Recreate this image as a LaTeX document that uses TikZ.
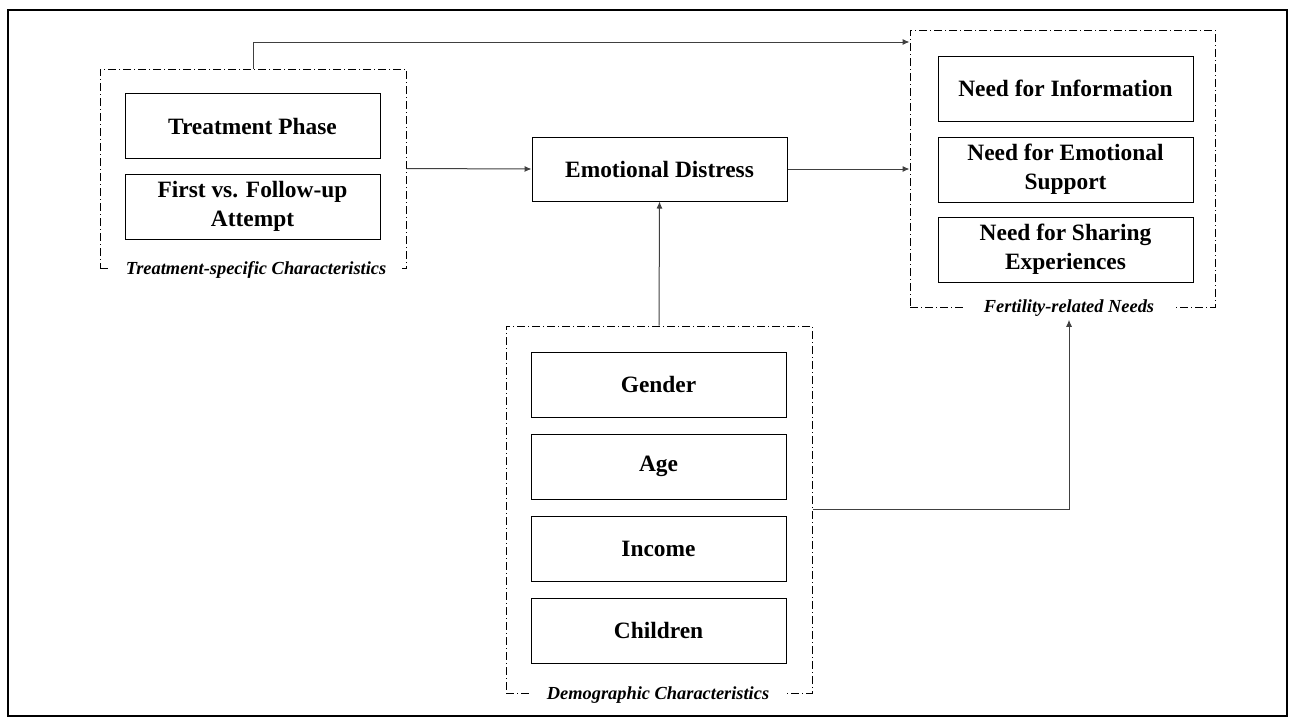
\documentclass[tikz,border=0pt]{standalone}
\usepackage{fontspec}
\setmainfont{Liberation Serif}
\usetikzlibrary{arrows.meta}

\begin{document}
\begin{tikzpicture}[
        x=0.5pt, y=-0.5pt,
        every node/.style={font=\fontsize{11.7}{14.5}\selectfont\bfseries},
        caja/.style={draw, line width=0.5pt, minimum width=127.5pt, minimum height=32.5pt, align=center, inner sep=1pt},
        grupo/.style={draw, line width=0.5pt, dash pattern=on 4pt off 1.5pt on 0.5pt off 1.5pt},
        etiqueta/.style={fill=white, inner xsep=8pt, inner ysep=1.5pt, font=\fontsize{9.2}{11}\selectfont\bfseries\itshape},
        flecha/.style={draw=black!75, line width=0.5pt, -{Latex[length=3.5pt,width=3pt]}}
    ]
    \useasboundingbox (0,0) rectangle (1293,724);
    \draw[line width=1pt] (8,10) rectangle (1287,716);

    % Caracteristicas del tratamiento
    \node[grupo, minimum width=153pt, minimum height=99.5pt] (tgroup) at (253,168.5) {};
    \node[caja] (phase) at (252.5,126) {Treatment Phase};
    \node[caja] (attempt) at (252.5,206.5) {First vs. Follow-up\\Attempt};
    \node[etiqueta] (tlabel) at (256,270) {Treatment-specific Characteristics};

    % Malestar emocional
    \node[caja, minimum height=32pt] (distress) at (659.5,169) {Emotional Distress};

    % Necesidades
    \node[grupo, minimum width=152.5pt, minimum height=138.5pt] (fgroup) at (1062.5,168.5) {};
    \node[caja] (info) at (1065.5,88.5) {Need for Information};
    \node[caja] (support) at (1065.5,169.5) {Need for Emotional\\Support};
    \node[caja] (sharing) at (1065.5,249.5) {Need for Sharing\\Experiences};
    \node[etiqueta, inner xsep=10pt] (flabel) at (1069,308) {Fertility-related Needs};

    % Caracteristicas demograficas
    \node[grupo, minimum width=153pt, minimum height=183.5pt] (dgroup) at (659,509.5) {};
    \node[caja] (gender) at (658.5,384.5) {Gender};
    \node[caja] (age) at (658.5,466.5) {Age};
    \node[caja] (income) at (658.5,548.5) {Income};
    \node[caja] (children) at (658.5,630.5) {Children};
    \node[etiqueta] (dlabel) at (658,695) {Demographic Characteristics};

    % Aristas
    \coordinate (codo) at (253,42);
    \draw[flecha] (tgroup.north) -- (codo) -- (codo -| fgroup.west);
    \draw[flecha] (tgroup.east) -- (distress.west);
    \draw[flecha] (distress.east) -- (distress.east -| fgroup.west);
    \draw[flecha] (dgroup.north) -- (distress.south);
    \draw[flecha] (dgroup.east) -| (flabel.south);
\end{tikzpicture}
\end{document}
